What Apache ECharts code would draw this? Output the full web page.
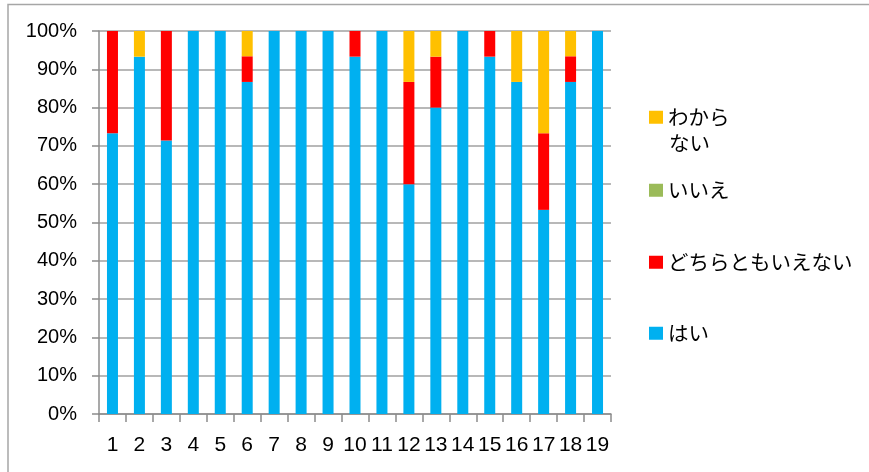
<!DOCTYPE html>
<html><head><meta charset="utf-8">
<script src="https://cdn.jsdelivr.net/npm/echarts@6/dist/echarts.min.js"></script>
<style>html,body{margin:0;padding:0;background:#fff}#c{width:869px;height:472px}</style>
</head><body><div id="c"></div>
<script>
const categories = ['1','2','3','4','5','6','7','8','9','10','11','12','13','14','15','16','17','18','19'];
const seriesNames = ['はい','どちらともいえない','いいえ','わからない'];
const hai = [73.3,93.3,71.4,100,100,86.7,100,100,100,93.3,100,60,80,100,93.3,86.7,53.3,86.7,100];
const dochira = [26.7,0,28.6,0,0,6.7,0,0,0,6.7,0,26.7,13.3,0,6.7,0,20,6.7,0];
const iie = [0,0,0,0,0,0,0,0,0,0,0,0,0,0,0,0,0,0,0];
const wakaranai = [0,6.7,0,0,0,6.7,0,0,0,0,0,13.3,6.7,0,0,13.3,26.7,6.7,0];
const colors = ['#00B0F0','#FF0000','#9BBB59','#FFC000'];
const values = [hai, dochira, iie, wakaranai];

const chart = echarts.init(document.getElementById('c'));
const jp = '"Noto Sans CJK JP", sans-serif';
const legendTops = {'わからない':107,'いいえ':180,'どちらともいえない':252,'はい':323};
const legends = Object.keys(legendTops).map(n => ({
  data:[n], left:649, top:legendTops[n], padding:0, orient:'vertical',
  icon:'rect', itemWidth:14, itemHeight:13, selectedMode:false,
  formatter: name => name === 'わからない' ? 'わから' : name,
  textStyle:{fontFamily:jp, fontSize:20.5, color:'#000'}
}));
chart.setOption({
  animation:false,
  grid:{left:99, right:258, top:31, bottom:58},
  legend: legends,
  graphic:[
    {type:'rect', shape:{x:8, y:4.5, width:900, height:520}, style:{fill:'none', stroke:'#a6a6a6', lineWidth:1.5}, silent:true},
    {type:'text', left:669, top:133, style:{text:'ない', font:'20.5px "Noto Sans CJK JP"', fill:'#000'}}
  ],
  xAxis:{type:'category', data:categories,
    axisLine:{lineStyle:{color:'#8c8c8c', width:1.5}},
    axisTick:{show:true, length:8, lineStyle:{color:'#8c8c8c', width:1.5}},
    axisLabel:{color:'#000', fontFamily:'"Liberation Sans"', fontSize:21, margin:21, interval:0}},
  yAxis:{type:'value', min:0, max:100, interval:10,
    axisLine:{show:true, lineStyle:{color:'#8c8c8c', width:1.5}},
    axisTick:{show:true, length:7, lineStyle:{color:'#8c8c8c', width:1.5}},
    splitLine:{lineStyle:{color:'#a0a0a0', width:1.5}},
    axisLabel:{color:'#000', fontFamily:'"Liberation Sans"', fontSize:20, margin:22, formatter:'{value}%'}},
  series: seriesNames.map((n,i) => ({
    name:n, type:'bar', stack:'all', data:values[i], barWidth:11,
    itemStyle:{color:colors[i]}
  }))
});
</script></body></html>
